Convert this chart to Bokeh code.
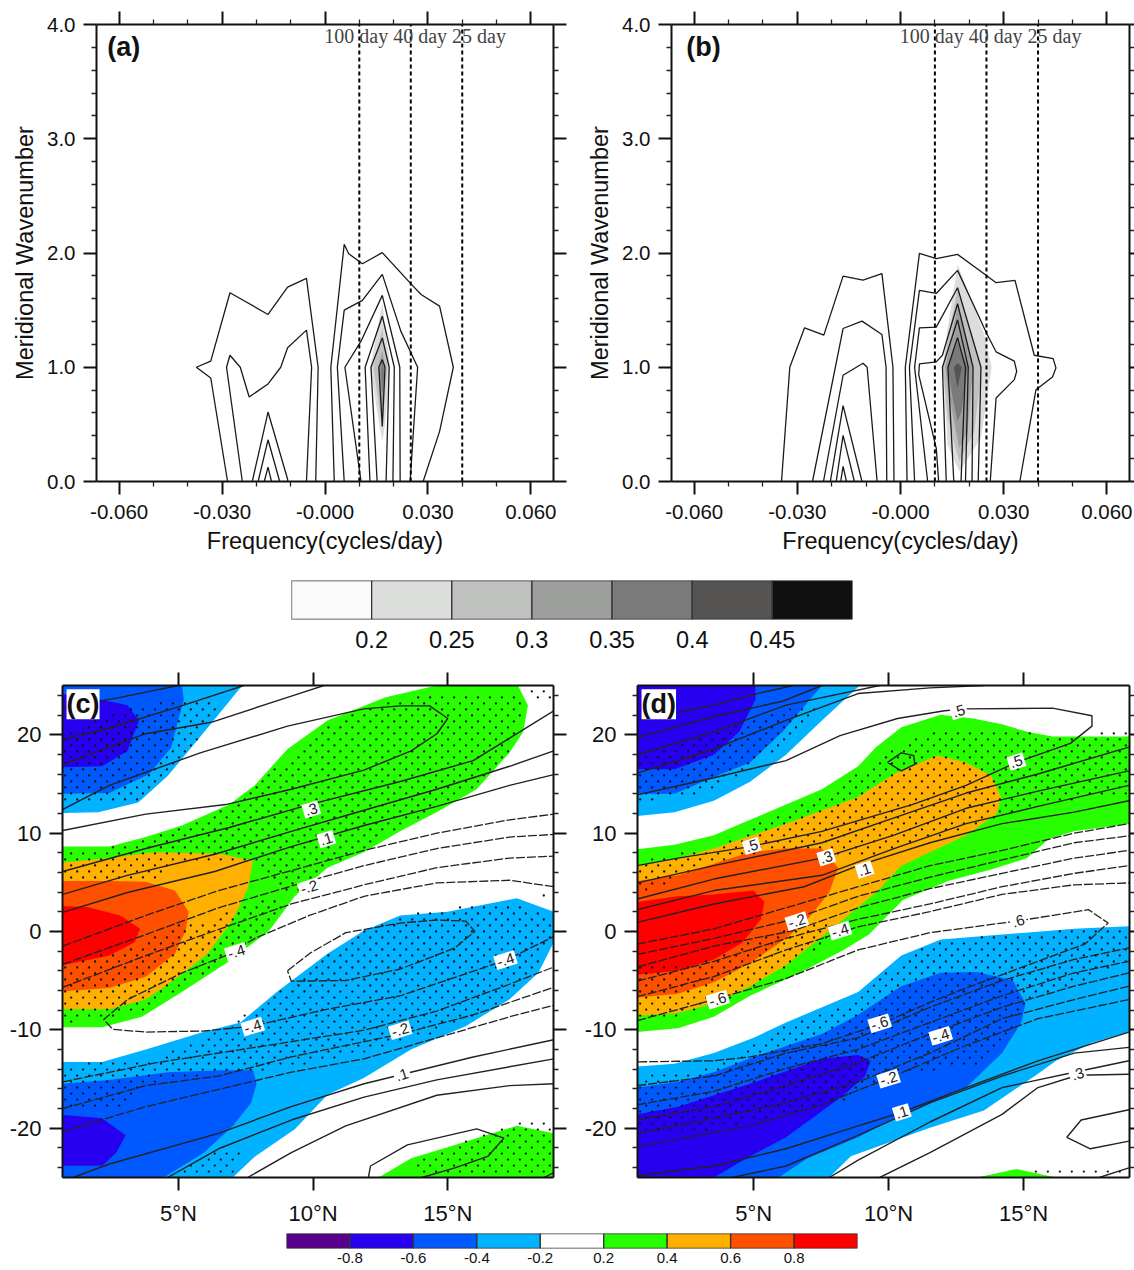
from bokeh.plotting import figure
from bokeh.layouts import column, row
from bokeh.models import LinearAxis, FixedTicker, Label, CustomLabelingPolicy
from bokeh.embed import file_html
from bokeh.resources import INLINE

FONT = "Liberation Sans"

# ---------- panels (a), (b): (frequency, wavenumber) contour polylines ----------
a_lines = [
 [(-.0284,0),(-.0333,.906),(-.0375,1),(-.0333,1.053),(-.0277,1.652),(-.0166,1.462),(-.0109,1.702),(-.0054,1.778),(-.0020,1),(-.0027,0)],
 [(-.0241,0),(-.0287,1),(-.0277,1.105),(-.0247,1),(-.0221,.74),(-.0166,.854),(-.0129,1),(-.0109,1.17),(-.0054,1.325),(-.0039,1),(-.0054,0)],
 [(-.0212,0),(-.0166,.608),(-.0109,.02),(-.0109,0)],
 [(-.0195,0),(-.0166,.365),(-.0132,0)],
 [(-.0177,0),(-.0166,.126),(-.0156,0)],
 [(.0027,0),(.0017,1),(.0056,2.076),(.0069,1.994),(.0109,1.906),(.0167,2.003),(.0252,1.725),(.0280,1.637),(.0334,1.535),(.0374,1),(.0334,.439),(.0286,0)],
 [(.0056,0),(.0036,1),(.0056,1.5),(.0109,1.585),(.0167,1.813),(.0221,1.316),(.0270,1),(.0248,0)],
 [(.0105,0),(.0058,1),(.0105,1.228),(.0167,1.629),(.0218,1),(.0219,0)],
 [(.0131,0),(.0117,1),(.0167,1.447),(.0202,1),(.0198,0)],
 [(.0152,0),(.0134,1),(.0167,1.257),(.0187,1),(.0178,0)],
 [(.0157,1),(.0167,1.067),(.0175,1),(.0167,.482),(.0157,1)],
]
a_shades = [
 (1,[(.0167,1.564),(.019,1),(.0175,.5),(.0167,.351),(.0158,.5),(.0132,1)]),
 (2,[(.0167,1.345),(.0182,1),(.0167,.468),(.0141,1)]),
 (3,[(.0167,1.14),(.0175,1),(.0167,.556),(.0155,1)]),
 (4,[(.0167,1.067),(.0173,.96),(.0167,.76),(.0162,.96)]),
]
b_lines = [
 [(-.0346,0),(-.0322,1),(-.0279,1.345),(-.0223,1.281),(-.0167,1.798),(-.0109,1.763),(-.0054,1.819),(-.0022,1),(-.0019,0)],
 [(-.0256,0),(-.0167,1.339),(-.0112,1.404),(-.0054,1.287),(-.0042,1),(-.0040,0)],
 [(-.0224,0),(-.0167,.93),(-.0109,1.035),(-.0097,1),(-.0068,0)],
 [(-.0204,0),(-.0167,.664),(-.0112,0)],
 [(-.0187,0),(-.0167,.404),(-.0134,0)],
 [(-.0174,0),(-.0167,.132),(-.0157,0)],
 [(.0019,0),(.0014,1),(.0055,1.997),(.0104,1.950),(.0166,1.988),(.0252,1.798),(.0278,1.74),(.0333,1.76),(.0389,1.105),(.0444,1.076),(.0452,.994),(.0442,.915),(.0394,.804),(.0347,0)],
 [(.0041,0),(.0026,1),(.0055,1.673),(.0104,1.646),(.0166,1.848),(.0252,1.287),(.0278,1.135),(.0331,1.053),(.0338,.965),(.0331,.892),(.0278,.731),(.0261,0)],
 [(.0079,0),(.0041,1),(.0055,1.345),(.0104,1.351),(.0166,1.696),(.0234,1),(.0226,0)],
 [(.0111,0),(.0104,.29),(.0053,.936),(.0055,1.029),(.0104,1.047),(.0122,1.105),(.0166,1.556),(.0211,1),(.0208,0)],
 [(.0133,0),(.0122,1),(.0166,1.415),(.0197,1),(.0189,0)],
 [(.0155,0),(.0138,1),(.0166,1.26),(.0189,1),(.0176,0)],
]
b_shades = [
 (1,[(.01665,1.9),(.0244,1.287),(.0265,1),(.0234,.38),(.0171,.088),(.0137,.322),(.0123,1),(.0137,1.345)]),
 (2,[(.01665,1.696),(.0236,1),(.0215,.439),(.0171,.175),(.0137,.556),(.0123,1)]),
 (3,[(.01665,1.535),(.0211,1),(.0195,.439),(.0171,.292),(.0137,.819),(.013,1)]),
 (4,[(.01665,1.228),(.0195,1),(.0178,.614),(.0166,.526),(.0152,.731),(.0137,1)]),
 (5,[(.01665,1.038),(.0178,1),(.0166,.819),(.0155,1)]),
]
period_freqs = [0.01, 0.025, 0.04]
period_text = "100 day 40 day 25 day"

grey_levels = ["0.2","0.25","0.3","0.35","0.4","0.45"]
grey_colors = ["#fafafa","#dcdedc","#bfc1bf","#9d9f9d","#7a7a7a","#555452","#101010"]

# ---------- panels (c), (d): (latitude, lag) shaded regions and contours ----------
fill_levels = ["-0.8","-0.6","-0.4","-0.2","0.2","0.4","0.6","0.8"]
fill_colors = ["#5a008e","#2800f0","#0059ff","#00b2ff","#ffffff","#27ff00","#ffb000","#ff5000","#ff0000"]
GREEN, ORANGE, DEEP, RED = 5, 6, 7, 8
LBLUE, BLUE, PURPLE = 3, 2, 1

c_fills = [
 (GREEN,[(.71,8.63),(2.44,8.63),(3.79,9.6),(5.13,10.77),(6.89,12.9),(7.83,14.85),(9.05,18.54),(10.53,21.45),(12.69,23.8),(14.58,25),(17.6,25),(17.97,23),(17.8,20.3),(17.28,18.15),(16.07,14.46),(14.58,12.13),(13.23,10.18),(11.88,8.05),(10.53,6.49),(9.32,3.58),(8.37,.08),(6.89,-3.03),(5.13,-6.14),(3.65,-8.67),(2.17,-9.72),(.71,-9.72)]),
 (ORANGE,[(.71,7),(2.44,7.46),(4.06,8.05),(6.48,7.93),(7.77,7.19),(7.57,4.35),(7.03,1.24),(6.08,-2.25),(5,-4.59),(3.79,-6.9),(2.44,-7.9),(.71,-7.9)]),
 (DEEP,[(.71,5.13),(2.44,5.13),(3.79,5.05),(4.87,4.16),(5.38,2),(5.27,.08),(4.87,-2.25),(3.79,-4.59),(2.44,-5.75),(.71,-6.07)]),
 (RED,[(.71,2.6),(1.63,2.49),(2.84,1.63),(3.58,.27),(3.38,-1.09),(2.44,-2.45),(.71,-3.42)]),
 (LBLUE,[(.71,12.05),(2.03,12.13),(3.51,13.1),(4.6,15.8),(6.08,20.67),(7.37,25),(.71,25)]),
 (BLUE,[(.71,14),(2.44,14.07),(3.92,16),(4.73,18.7),(5.2,23.6),(5.13,25),(.71,25)]),
 (PURPLE,[(.71,16.7),(2.17,16.8),(3.11,18.35),(3.54,21.45),(3.11,23),(1.36,24),(.71,24.1)]),
 (LBLUE,[(.71,-13.25),(2.17,-13.25),(3.79,-12),(5.95,-10.2),(7.3,-9.25),(8.65,-6.14),(10.53,-2.25),(11.88,.08),(13.23,1.63),(14.99,2),(17.56,3.38),(18.93,2),(18.93,-1.09),(18.36,-4.2),(17.28,-6.9),(15.66,-9.64),(13.63,-12),(11.88,-14.9),(10.53,-16.6),(9.32,-20.1),(7.83,-22.9),(7.02,-25),(.71,-25)]),
 (BLUE,[(.71,-15.47),(2.44,-15.08),(4.6,-14.3),(6.7,-14.1),(7.77,-14.1),(7.9,-15.47),(7.7,-17.4),(7.03,-19.74),(5.95,-22.46),(4.46,-25),(.71,-25)]),
 (PURPLE,[(.71,-18.66),(2.17,-18.97),(3.04,-20.7),(2.7,-22.46),(2.17,-23.8),(.71,-23.8)]),
 (GREEN,[(12.43,-25),(13.64,-23.05),(15.26,-21.7),(17.56,-19.74),(18.93,-20.5),(18.93,-25)]),
]
c_solid = [
 [(.71,22.7),(2.84,23.79),(5,25)],
 [(.71,19.51),(2.44,20.68),(5,22.82),(7.43,25)],
 [(.71,16.99),(3.79,20.1),(6.22,21.26),(9.05,23.79),(10.4,25)],
 [(.71,12.4),(2.44,14.85),(5.81,18.15),(9.05,20.87),(11.88,22.62),(13.23,22.93),(14.32,22.93),(15,21.65),(14.59,20.1),(13.64,18.35),(11.88,16.4),(9.19,14.46),(6.76,12.9),(3.79,11.93),(.71,10.26)],
 [(.71,6.1),(3.79,8.43),(6.89,10.57),(9.86,12.9),(13.24,15.24),(15.94,17.37),(17.56,20.1),(18.93,22.43)],
 [(.71,3.77),(3.11,5.71),(6.35,7.85),(9.19,10.18),(11.89,12.32),(14.59,14.46),(17.29,16.79),(18.93,18.35)],
 [(.71,1.94),(3.11,3.96),(6.35,6.1),(9.19,8.63),(11.89,10.77),(14.59,12.71),(17.29,14.85),(18.93,15.94)],
 [(1.09,-25),(2.44,-23.63),(6.49,-20.52),(9.19,-17.8),(11.89,-15.47),(15.94,-12.75),(18.93,-11)],
 [(4.6,-25),(6.49,-22.08),(9.19,-19.16),(11.89,-16.83),(14.59,-15.08),(18.93,-12.94)],
 [(7.57,-25),(9.19,-22.47),(11.21,-19.75),(14.59,-16.64),(17.29,-15.66),(18.93,-15.47)],
 [(12.05,-25),(12.13,-23.83),(13.5,-21.69),(16.07,-20.06),(17.08,-21),(16.48,-22.86),(15.26,-24.02),(14.04,-25)],
 [(18.57,-25),(18.93,-24.5)],
]
c_dashed = [
 [(.71,-1.48),(3.79,1.63),(6.49,4.16),(9.59,6.49),(11.89,8.24),(14.59,9.99),(17.29,11.35),(18.93,11.93)],
 [(.71,-3.34),(3.79,-.31),(6.49,2.41),(9.59,4.94),(11.89,6.69),(14.59,8.43),(17.29,9.6),(18.93,9.87)],
 [(.71,-5.67),(3.79,-2.45),(5.95,-.31),(9.19,2.8),(11.89,4.74),(14.59,6.49),(17.29,7.46),(18.93,7.66)],
 [(18.93,4.55),(17.29,5.21),(14.59,4.94),(11.89,3.58),(9.86,1.63),(7.84,-.7),(6.76,-2.45),(5.14,-4.2),(3.11,-6.92),(2.23,-8.94),(2.57,-9.95),(3.79,-10.22),(5.95,-10.11),(7.7,-9.64),(10.54,-7.89),(13.24,-6.53),(17.15,-2.92),(18.93,-.51)],
 [(9.05,-4),(9.86,-2.25),(11.21,-.12),(13.24,.86),(14.59,1.17),(15.67,1.05),(16,0),(15.26,-1.67),(13.24,-3.81),(11.21,-4.98),(9.19,-5.05),(9.05,-4)],
 [(.71,-15.28),(4.19,-13.33),(7.84,-11.78),(11.89,-10.03),(14.59,-8.08),(17.29,-5.36),(18.93,-3.61)],
 [(.71,-18),(3.79,-15.66),(6.49,-14.69),(9.19,-12.75),(13.24,-10.42),(15.94,-8.47),(18.93,-5.67)],
 [(.71,-20.33),(3.79,-17.8),(6.49,-16.05),(9.19,-14.3),(11.89,-12.94),(14.59,-10.81),(17.29,-8.67),(18.93,-7.5)],
]
c_labels = [(".3",9.93,12.4),(".1",10.49,9.4),("-.2",9.85,4.5),("-.4",7.15,-2.08),("-.4",7.76,-9.67),("-.4",17.14,-2.9),("-.2",13.23,-10.03),(".1",13.3,-14.58)]
c_stipple = [
 [(.71,20.2),(2.44,21.9),(3.79,23.1),(5.13,23.6),(6.48,23.1),(6.2,21.2),(4.73,16),(3.51,13.3),(.71,13.3)],
 [(.71,7.93),(3.79,9.21),(6.48,12.13),(9.18,17.76),(10.53,21.06),(12.69,23.2),(14.58,24.37),(17.62,23.98),(17.89,22.23),(17.28,18.34),(15.93,14.65),(11.88,8.43),(10.53,6.68),(9.18,3.58),(7.83,7.07),(4.73,7.07),(4.46,5.32),(.71,5.32)],
 [(.71,-3.42),(3.51,-1.48),(4.87,.86),(5.95,.86),(7.83,3.19),(9.18,3.58),(7.83,-.7),(6.76,-3.03),(5.13,-5.75),(3.65,-8.28),(.71,-9.44)],
 [(.71,-13.53),(4.06,-12.94),(6.35,-10.22),(7.83,-7.89),(10.53,-2.45),(11.88,.08),(13.64,2.02),(17.56,2.99),(18.93,1.63),(18.93,-1.09),(17.28,-6.92),(14.58,-10.22),(11.88,-12.36),(9.18,-13.91),(6.48,-14.3),(3.79,-15.47),(2.84,-17.8),(.71,-18.19)],
 [(6.22,-22.46),(7.57,-22.08),(7.03,-24.4),(4.87,-24.8)],
 [(13.64,-23.05),(14.85,-22.46),(16.2,-20.5),(17.69,-19.35),(18.77,-19.35),(18.93,-25),(14.31,-25)],
 [(17.96,24.76),(18.93,24.76),(18.93,23.4),(17.96,23.98)],
 [(17.96,3.58),(18.77,3.77),(18.77,2.99),(17.96,3.19)],
]

d_fills = [
 (GREEN,[(.69,8.36),(2.07,8.82),(3.53,9.79),(4.87,11.35),(6.2,12.9),(7.53,14.46),(8.87,16.79),(9.53,18.73),(10.47,20.75),(11.93,22.04),(13.13,21.65),(14.2,21.06),(15.13,20.29),(16.07,19.82),(18.9,19.82),(18.9,10.96),(16.87,10.18),(15.93,9.4),(15.13,7.46),(13.8,6.3),(12.2,5.13),(10.53,3.19),(9.27,-.31),(8.33,-1.87),(6.73,-4.2),(4.87,-6.53),(3.53,-8.67),(2.2,-9.83),(.69,-10.22)]),
 (ORANGE,[(.69,6.6),(2.2,7.46),(3.53,8.43),(6.2,10.96),(8.87,13.68),(10.2,16),(11.8,17.88),(12.87,17.18),(13.8,15.82),(14.16,13.68),(14,11.93),(12.87,9.79),(11.53,8.05),(10.47,6.68),(9.53,3.96),(8.33,1.24),(7.27,-1.09),(6.2,-3.42),(4.87,-5.56),(3.53,-7.3),(2.2,-8.28),(.69,-8.55)]),
 (DEEP,[(.69,5.13),(2.2,5.71),(3.53,6.88),(4.87,8.05),(6.2,8.43),(7.53,8.43),(8.13,6.49),(7.8,3.96),(7,1.24),(6.2,-.7),(4.87,-3.23),(3.53,-5.17),(2.2,-6.33),(.69,-6.72)]),
 (RED,[(.69,2.99),(2.2,3.58),(3.53,3.77),(5,4.16),(5.4,2.99),(5.27,1.24),(4.6,-1.09),(3.53,-2.84),(2.2,-4),(.69,-4.39)]),
 (LBLUE,[(.69,11.74),(2.07,12.13),(3.53,13.29),(4.87,15.23),(6.2,17.96),(7.53,21.45),(8.93,25),(.69,25)]),
 (BLUE,[(.69,14),(2.07,14),(3.8,16),(4.87,17.18),(6.07,20.29),(7.27,24.17),(7.53,25),(.69,25)]),
 (PURPLE,[(.69,16.48),(2.07,16.48),(3.53,17.96),(4.47,20.29),(5.07,23.6),(5.07,25),(.69,25)]),
 (LBLUE,[(.69,-13.72),(2.07,-13.45),(3.53,-12.36),(5,-10.8),(6.2,-9.25),(8.87,-6.14),(10.47,-2.45),(11.93,-.82),(14.2,-.31),(16.87,.27),(18.9,.54),(18.9,-10.22),(17.53,-11.3),(16.2,-13.14),(15.4,-14.7),(13.53,-18.19),(11.53,-19.94),(8.6,-22.85),(7.8,-25),(.69,-25)]),
 (BLUE,[(.69,-15.86),(2.2,-15.27),(3.53,-14.3),(5,-12.75),(7.53,-10.42),(8.87,-8.47),(10.47,-5.56),(11.93,-4.2),(13.27,-4.12),(14.6,-4.97),(15.07,-7.31),(14.91,-9.25),(14.2,-12.36),(12.87,-15.86),(11.53,-17.41),(10.2,-18.97),(8.87,-20.9),(7,-23.05),(5.93,-25),(.69,-25)]),
 (PURPLE,[(.69,-18.58),(2.2,-17.8),(4.87,-15.47),(7.53,-12.94),(8.87,-12.55),(9.33,-13.14),(9.13,-14.7),(8.33,-16.63),(7.27,-18.77),(6.2,-20.9),(4.87,-22.85),(3.53,-25),(.69,-25)]),
 (GREEN,[(13.27,-25),(14.73,-24.13),(16.2,-25)]),
]
d_solid = [
 [(.69,21.46),(3.53,23.01),(5.13,24.18),(6.47,25)],
 [(.69,19.71),(3.53,21.85),(6.07,23.4),(7.53,25)],
 [(.69,17.96),(3.53,20.29),(6.2,23.01),(9.67,25)],
 [(.69,16.09),(3.53,18.54),(6.2,21.46),(8.87,24.18),(11.53,24.76),(13.53,25)],
 [(.69,13.88),(3.53,15.63),(6.2,17.37),(8.2,19.9),(10.33,21.65),(12.07,22.43),(12.87,22.62),(16.07,22.7),(17.53,21.92),(17.53,20.87),(16.73,19.12),(14.73,17.18),(12.87,14.85),(10.87,12.9),(7.53,10.18),(4.87,8.63),(2.2,7.46),(.69,6.69)],
 [(9.96,17.18),(10.47,18.15),(10.93,17.88),(10.97,16.99),(10.47,16.33),(9.96,17.18)],
 [(.69,4.94),(3.53,6.69),(7.53,9.02),(10.2,11.54),(12.87,14.07),(15.53,16.01),(18.9,18.74)],
 [(.69,3.3),(3.53,5.33),(7.53,7.46),(10.2,9.8),(12.87,12.52),(15.53,14.27),(18.9,16.33)],
 [(.69,2.22),(3.53,4.16),(7.53,5.71),(10.2,8.43),(12.87,10.96),(15.53,12.71),(18.9,14.85)],
 [(.69,.93),(3.53,2.8),(6.87,4.55),(8.87,6.69),(11.53,9.02),(14.2,10.96),(16.87,12.13),(18.9,13.29)],
 [(.69,-24.8),(3.53,-23.83),(6.2,-22.08),(8.87,-19.75),(10.47,-18.39),(12.87,-15.86),(15.53,-13.14),(18.9,-10.22)],
 [(4.2,-25),(6.2,-23.83),(8.87,-20.72),(11.53,-17.41),(14.2,-14.69),(16.87,-12.36),(18.9,-11.78)],
 [(7.8,-25),(8.87,-23.24),(11.53,-19.36),(14.2,-15.86),(16.87,-14.3),(18.9,-13.14)],
 [(9.67,-25),(11.53,-22.47),(14.2,-18.58),(15.53,-15.86),(17,-14.61),(18.9,-14.5)],
 [(18.9,-18.11),(17.13,-19.16),(16.6,-20.91),(17.47,-22.08),(18.9,-21.3)],
 [(17.8,-25),(18.9,-24.02)],
]
d_dashed = [
 [(.69,-1.28),(3.53,.27),(6.2,2.41),(8.87,4.55),(11.53,6.69),(14.2,8.24),(16.87,9.99),(18.9,10.96)],
 [(.69,-2.33),(3.53,-.7),(6.47,1.24),(8.87,3.58),(11.53,5.52),(14.2,7.27),(16.87,9.02),(18.9,9.72)],
 [(.69,-3.61),(3.53,-1.48),(6.47,.08),(8.87,2.41),(11.53,4.35),(14.2,5.91),(16.87,7.46),(18.9,8.24)],
 [(.69,-5.05),(3.53,-3.03),(6.2,-.7),(8.87,1.24),(11.53,2.8),(14.2,4.55),(16.87,5.91),(18.9,6.69)],
 [(.69,-6.61),(3.53,-4.59),(6.2,-1.87),(8.87,.47),(11.53,2.02),(14.2,3.77),(16.87,4.74),(18.9,4.94)],
 [(.69,-9.06),(3.53,-6.92),(6.2,-4.78),(8.87,-1.87),(11.53,-.12),(14.73,1.05),(17.4,2.22),(18.13,.86),(17.27,-1.28),(15.53,-3.03),(12.87,-5.75),(11.53,-7.2),(9.67,-9.45),(7.53,-11.39),(4.87,-12.75),(3.53,-13.14),(.69,-13.25)],
 [(.69,-15.66),(3.53,-14.69),(6.2,-12.36),(8.87,-10.81),(11.53,-7.7),(14.2,-4.98),(16.87,-2.84),(18.9,-1.67)],
 [(.69,-17.61),(3.53,-16.25),(6.2,-13.92),(8.87,-11.97),(11.53,-9.25),(14.2,-6.53),(16.87,-4.2),(18.9,-3.03)],
 [(.69,-19.16),(3.53,-17.8),(6.2,-15.66),(8.87,-13.33),(11.53,-10.42),(14.2,-7.7),(16.87,-5.56),(18.9,-4.2)],
 [(.69,-20.52),(3.53,-18.97),(6.2,-17.41),(8.87,-15.28),(11.53,-12.36),(14.2,-8.86),(16.87,-6.92),(18.9,-5.56)],
 [(.69,-21.88),(4.87,-19.75),(7.53,-17.61),(10,-14.89),(12.87,-11.58),(15.53,-8.86),(18.9,-6.92)],
]
d_labels = [(".5",4.93,8.7),(".3",7.69,7.54),(".1",9.11,6.3),(".5",14.73,17.26),("-.2",6.6,1.05),("-.4",8.2,.08),("-.6",3.67,-6.92),("-.6",9.67,-9.33),("-.4",11.93,-10.6),("-.2",10,-14.96),(".1",10.49,-18.38),(".3",17,-14.5),(".5",12.6,22.4),(".6",14.8,1.05)]
d_stipple = [
 [(.69,17.57),(2.2,19.13),(3.53,20.29),(4.87,21.65),(6.87,23),(7.53,22.8),(6.47,19.9),(4.87,16.4),(3.53,14.46),(2.2,13.49),(.69,13.29)],
 [(.69,7.27),(3.53,8.43),(4.87,10.57),(7.53,13.68),(9.53,17.18),(10.87,19.9),(12.87,20.68),(15.53,20.09),(18.9,19.9),(18.9,14.07),(15.53,12.9),(13.53,10.96),(11.53,9.4),(8.87,7.46),(6.2,8.43),(3.53,7.07),(.69,3.58)],
 [(.69,-3.42),(2.2,-3.42),(3.8,-2.45),(5.4,-.31),(6.73,.86),(8.47,.86),(7.53,-1.48),(6.2,-3.81),(4.87,-5.75),(3.53,-7.7),(2.07,-8.86),(.69,-8.67)],
 [(.69,-14.7),(3.53,-13.91),(4.87,-11.78),(6.33,-9.25),(8.87,-6.92),(10.6,-2.45),(11.93,-.89),(14.2,-.31),(16.87,.08),(18.9,.08),(18.9,-3.03),(15.13,-7.31),(14.47,-10.8),(13.27,-13.53),(9.93,-14.7),(8.47,-17.03),(6.2,-18.58),(3.53,-20.13),(.69,-20.5)],
 [(17.67,20.6),(18.9,20.6),(18.9,20),(17.67,20)],
 [(15.27,-24),(18.9,-24),(18.9,-24.5),(15.27,-24.5)],
]
lon_ticks = [5, 10, 15]
lon_labels = {5:"5°N", 10:"10°N", 15:"15°N"}
lag_labels = {-20:"-20", -10:"-10", 0:"0", 10:"10", 20:"20"}


def hide_labels(ax):
    ax.major_label_text_font_size = "0px"
    ax.major_label_standoff = 0
    ax.major_label_policy = CustomLabelingPolicy(code="return []")


def style_axis(ax, major, minor, major_out=13, minor_out=5, size="20.5px"):
    ax.ticker = FixedTicker(ticks=major, minor_ticks=minor)
    ax.axis_line_width = 2
    ax.axis_line_color = "#111111"
    ax.major_tick_line_width = 2
    ax.major_tick_line_color = "#111111"
    ax.minor_tick_line_width = 1.3
    ax.minor_tick_line_color = "#222222"
    ax.major_tick_in = 0
    ax.minor_tick_in = 0
    ax.major_tick_out = major_out
    ax.minor_tick_out = minor_out
    ax.major_label_text_font = FONT
    ax.major_label_text_font_size = size
    ax.major_label_text_color = "#111111"


def base(w, h, l, r, t, b, xr, yr):
    p = figure(width=w, height=h, x_range=xr, y_range=yr, toolbar_location=None,
               output_backend="svg", min_border_left=l, min_border_right=r,
               min_border_top=t, min_border_bottom=b, outline_line_color=None,
               background_fill_color="white", border_fill_color="white", frame_align=False)
    p.grid.visible = False
    return p


def boxed(p, xmaj, xmin, ymaj, ymin, right_out, size, xo=None, yo=None):
    xax, yax = p.below[0], p.left[0]
    style_axis(xax, xmaj, xmin, size=size)
    style_axis(yax, ymaj, ymin, size=size)
    if xo: xax.major_label_overrides = xo
    if yo: yax.major_label_overrides = yo
    top = LinearAxis(); style_axis(top, xmaj, xmin); hide_labels(top)
    rgt = LinearAxis(); style_axis(rgt, ymaj, ymin, major_out=right_out, minor_out=min(5, right_out)); hide_labels(rgt)
    p.add_layout(top, "above")
    p.add_layout(rgt, "right")
    return xax, yax


def spectrum(name, name_x, l, r, lines, shades):
    p = base(567, 560, l, r, 24, 79, (-0.0666, 0.0666), (0, 4))
    maj = [-.06, -.03, 0, .03, .06]
    mnr = [-.05, -.04, -.02, -.01, .01, .02, .04, .05]
    ymaj = [0, 1, 2, 3, 4]
    ymin = [.2,.4,.6,.8,1.2,1.4,1.6,1.8,2.2,2.4,2.6,2.8,3.2,3.4,3.6,3.8]
    xax, yax = boxed(p, maj, mnr, ymaj, ymin, 13 if r > 10 else 5, "20.5px",
          {-.06:"-0.060", -.03:"-0.030", 0:"-0.000", .03:"0.030", .06:"0.060"},
          {0:"0.0", 1:"1.0", 2:"2.0", 3:"3.0", 4:"4.0"})
    xax.major_label_standoff = 10
    yax.major_label_standoff = 8
    xax.axis_label = "Frequency(cycles/day)"
    yax.axis_label = "Meridional Wavenumber"
    for ax in (xax, yax):
        ax.axis_label_text_font = FONT
        ax.axis_label_text_font_style = "normal"
        ax.axis_label_text_font_size = "23.5px"
        ax.axis_label_text_color = "#111111"
    xax.axis_label_standoff = 6
    yax.axis_label_standoff = 6
    for lev, poly in shades:
        p.patch([q[0] for q in poly], [q[1] for q in poly], fill_color=grey_colors[lev], line_color=None)
    for ln in lines:
        p.line([q[0] for q in ln], [q[1] for q in ln], line_color="#1a1a1a", line_width=1.3)
    p.add_layout(Label(x=-0.0002, y=3.9, text=period_text, text_font="Liberation Serif",
                       text_font_size="20px", text_color="#444444", text_baseline="middle"))
    for f in period_freqs:
        p.line([f, f], [0, 4], line_color="black", line_width=2, line_dash="4 3")
    p.add_layout(Label(x=name_x, y=3.8, text=name, text_font=FONT, text_font_style="bold",
                       text_font_size="27px", text_color="#111111", text_baseline="middle"))
    return p


def inside(x, y, poly):
    hit = False
    n = len(poly)
    for i in range(n):
        x0, y0 = poly[i]
        x1, y1 = poly[(i + 1) % n]
        if (y0 > y) != (y1 > y) and x < x0 + (y - y0) * (x1 - x0) / (y1 - y0):
            hit = not hit
    return hit


def stipple_points(regions):
    xs, ys = [], []
    for j in range(-41, 42):
        off = 0.222 if j % 2 else 0.0
        for i in range(0, 44):
            x = 0.8 + off + i * 0.444
            y = j * 0.61
            if any(inside(x, y, r) for r in regions):
                xs.append(x); ys.append(y)
    return xs, ys


def hovmoller(name, l, r, fills, solid, dashed, labels, stipple):
    p = base(567, 566, l, r, 20, 54, (0.7, 18.92), (-25, 25))
    ymaj = [-20, -10, 0, 10, 20]
    ymin = [-24,-22,-18,-16,-14,-12,-8,-6,-4,-2,2,4,6,8,12,14,16,18,22,24]
    xax, yax = boxed(p, lon_ticks, [], ymaj, ymin, 13 if r > 10 else 5, "22px", lon_labels, lag_labels)
    yax.major_label_standoff = 8
    xax.major_label_standoff = 10
    for lev, poly in fills:
        p.patch([q[0] for q in poly], [q[1] for q in poly], fill_color=fill_colors[lev], line_color=None)
    sx, sy = stipple_points(stipple)
    p.scatter(sx, sy, size=2.3, marker="circle", fill_color="#111111", line_color=None)
    for ln in solid:
        p.line([q[0] for q in ln], [q[1] for q in ln], line_color="#222222", line_width=1.4)
    for ln in dashed:
        p.line([q[0] for q in ln], [q[1] for q in ln], line_color="#222222", line_width=1.3, line_dash="9 2")
    for t, x, y in labels:
        p.add_layout(Label(x=x, y=y, text=t, angle=0.3, text_font=FONT, text_font_size="15px",
                           text_align="center", text_baseline="middle", text_color="#222222",
                           background_fill_color="white", padding=2))
    p.add_layout(Label(x=0.85, y=23.1, text=name, text_font=FONT, text_font_style="bold",
                       text_font_size="27px", text_color="#111111", text_baseline="middle",
                       background_fill_color="white"))
    return p


def colorbar(w, h, l, r, t, b, colors, labels, size, standoff):
    n = len(colors)
    p = base(w, h, l, r, t, b, (0, n), (0, 1))
    p.yaxis.visible = False
    lefts = list(range(n))
    p.quad(left=lefts, right=[v + 1 for v in lefts], bottom=0, top=1,
           fill_color=colors, line_color="#333333", line_width=1.3)
    ax = p.below[0]
    ax.ticker = FixedTicker(ticks=list(range(1, n)))
    ax.major_label_overrides = {i + 1: s for i, s in enumerate(labels)}
    ax.major_tick_line_color = None
    ax.minor_tick_line_color = None
    ax.axis_line_color = None
    ax.major_tick_out = 0
    ax.major_tick_in = 0
    ax.major_label_standoff = standoff
    ax.major_label_text_font = FONT
    ax.major_label_text_font_size = size
    ax.major_label_text_color = "#111111"
    return p


pa = spectrum("(a)", -0.0635, 96, 14, a_lines, a_shades)
pb = spectrum("(b)", -0.0623, 104, 5, b_lines, b_shades)
cb1 = colorbar(1134, 105, 291, 282, 20, 46, grey_colors, grey_levels, "23.5px", 11)
pc = hovmoller("(c)", 62, 14, c_fills, c_solid, c_dashed, c_labels, c_stipple)
pd_ = hovmoller("(d)", 70, 5, d_fills, d_solid, d_dashed, d_labels, d_stipple)
cb2 = colorbar(1134, 39, 286, 277, 2, 22, fill_colors, fill_levels, "15px", 4)

page = column(row(pa, pb, spacing=0), cb1, row(pc, pd_, spacing=0), cb2, spacing=0)
open("out.html", "w").write(file_html(page, INLINE))
